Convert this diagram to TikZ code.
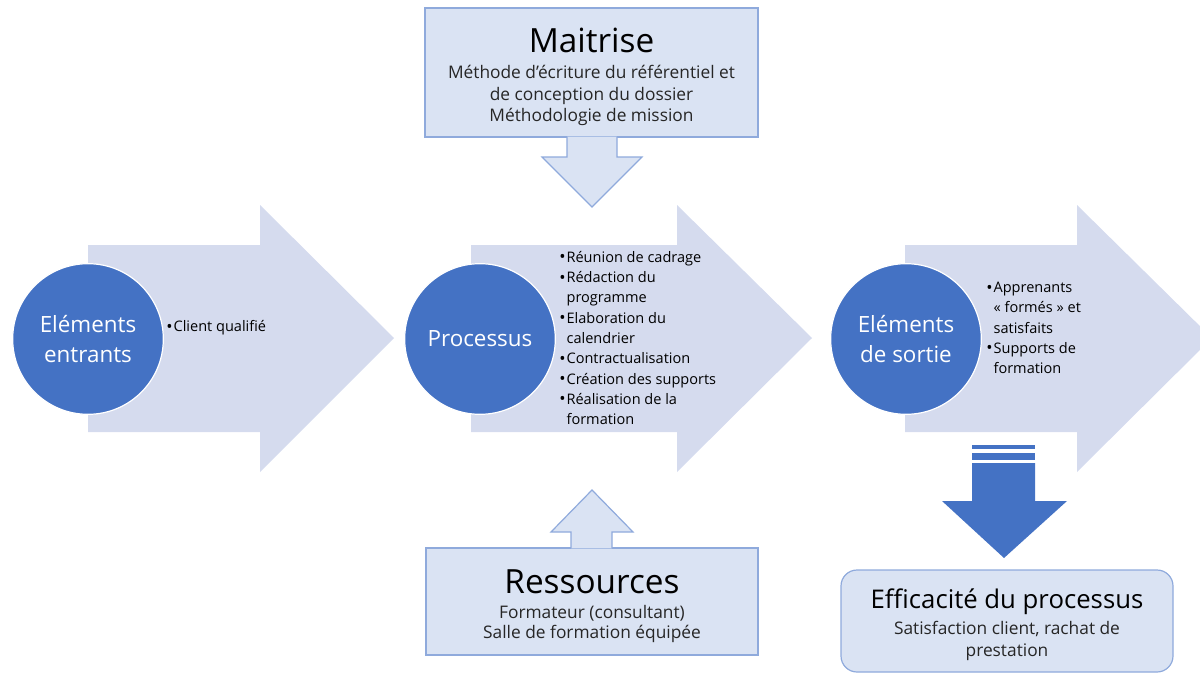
\documentclass[tikz,border=0pt]{standalone}
\usepackage{fontspec}
\setmainfont{Open Sans}
\definecolor{arrowfill}{HTML}{D5DBEE}
\definecolor{boxfill}{HTML}{DAE3F3}
\definecolor{boxline}{HTML}{8FAADC}
\definecolor{accent}{HTML}{4472C4}
\newcommand\bitem{\makebox[5.5pt][l]{\fontsize{12.5}{12}\selectfont\raisebox{-0.3pt}{•}}}
\newcommand\bcont{\hspace*{5.5pt}}
\begin{document}
\begin{tikzpicture}[x=0.75pt,y=-0.75pt,
  bigarrow/.style={fill=arrowfill,draw=none},
  boxshape/.style={fill=boxfill,draw=boxline,line width=0.9pt},
  blockarrow/.style={fill=boxfill,draw=boxline,line width=0.9pt,line join=miter},
  disc/.style={circle,fill=accent,draw=white,line width=0.9pt,minimum size=113pt,inner sep=0pt,
    text=white,align=center,font=\fontsize{16.8}{22.5}\selectfont},
  listtext/.style={anchor=west,align=left,inner sep=0pt,text=black,font=\fontsize{10.9}{15.2}\selectfont},
  titletext/.style={inner sep=0pt,text=black,align=center,font=\fontsize{25}{30}\selectfont},
  bodytext/.style={inner sep=0pt,text=black!85,align=center,font=\fontsize{13}{16}\selectfont}]
\useasboundingbox (0,0) rectangle (1200,674);
\clip (0,0) rectangle (1200,674);

% big process arrows
\fill[bigarrow] (88,245) -- (260,245) -- (260,205) -- (394,338) -- (260,472) -- (260,432) -- (88,432) -- cycle;
\fill[bigarrow] (471,245) -- (677,245) -- (677,205) -- (812,338) -- (677,472) -- (677,432) -- (471,432) -- cycle;
\fill[bigarrow] (905,245) -- (1077,245) -- (1077,205) -- (1212,338) -- (1077,472) -- (1077,432) -- (905,432) -- cycle;

% circles
\node[disc] (c1) at (88,339) {Eléments\\entrants};
\node[disc] (c2) at (480,339) {Processus};
\node[disc] (c3) at (906,339) {Eléments\\de sortie};

% lists
\node[listtext] (l1) at (166,328) {\bitem Client qualifié};
\node[listtext] (l2) at (559,338) {\bitem Réunion de cadrage\\
\bitem Rédaction du\\\bcont programme\\
\bitem Elaboration du\\\bcont calendrier\\
\bitem Contractualisation\\
\bitem Création des supports\\
\bitem Réalisation de la\\\bcont formation};
\node[listtext] (l3) at (986,328) {\bitem Apprenants\\\bcont « formés » et\\\bcont satisfaits\\
\bitem Supports de\\\bcont formation};

% Maitrise
\node[boxshape,minimum width=249.75pt,minimum height=96.75pt,inner sep=0pt] (maitrise) at (591.5,72.5) {};
\filldraw[blockarrow] (567,136.6) -- (567,157) -- (542,157) -- (592,207) -- (642,157) -- (617,157) -- (617,136.6);
\node[titletext] (mt) at (591.5,40) {Maitrise};
\node[bodytext] (mb) at (591.5,95.5) {Méthode d’écriture du référentiel et\\de conception du dossier\\Méthodologie de mission};

% Ressources
\node[boxshape,minimum width=249pt,minimum height=80.25pt,inner sep=0pt] (ressources) at (592,601.5) {};
\filldraw[blockarrow] (571,548.4) -- (571,532) -- (551,532) -- (592,490) -- (633,532) -- (612,532) -- (612,548.4);
\node[titletext] (rt) at (592,582) {Ressources};
\node[bodytext,font=\fontsize{13}{15}\selectfont] (rb) at (592,624) {Formateur (consultant)\\Salle de formation équipée};

% blue arrow
\fill[accent] (972,445) rectangle (1035,449);
\fill[accent] (972,453) rectangle (1035,460);
\fill[accent] (972,463) -- (1035,463) -- (1035,501) -- (1067,501) -- (1004,558) -- (942,501) -- (972,501) -- cycle;

% Efficacite
\draw[boxshape,rounded corners=12pt] (841,570) rectangle (1173,672);
\node[titletext,font=\fontsize{19.3}{24}\selectfont] (et) at (1007,602) {Efficacité du processus};
\node[bodytext] (eb) at (1007,641) {Satisfaction client, rachat de\\prestation};
\end{tikzpicture}
\end{document}
